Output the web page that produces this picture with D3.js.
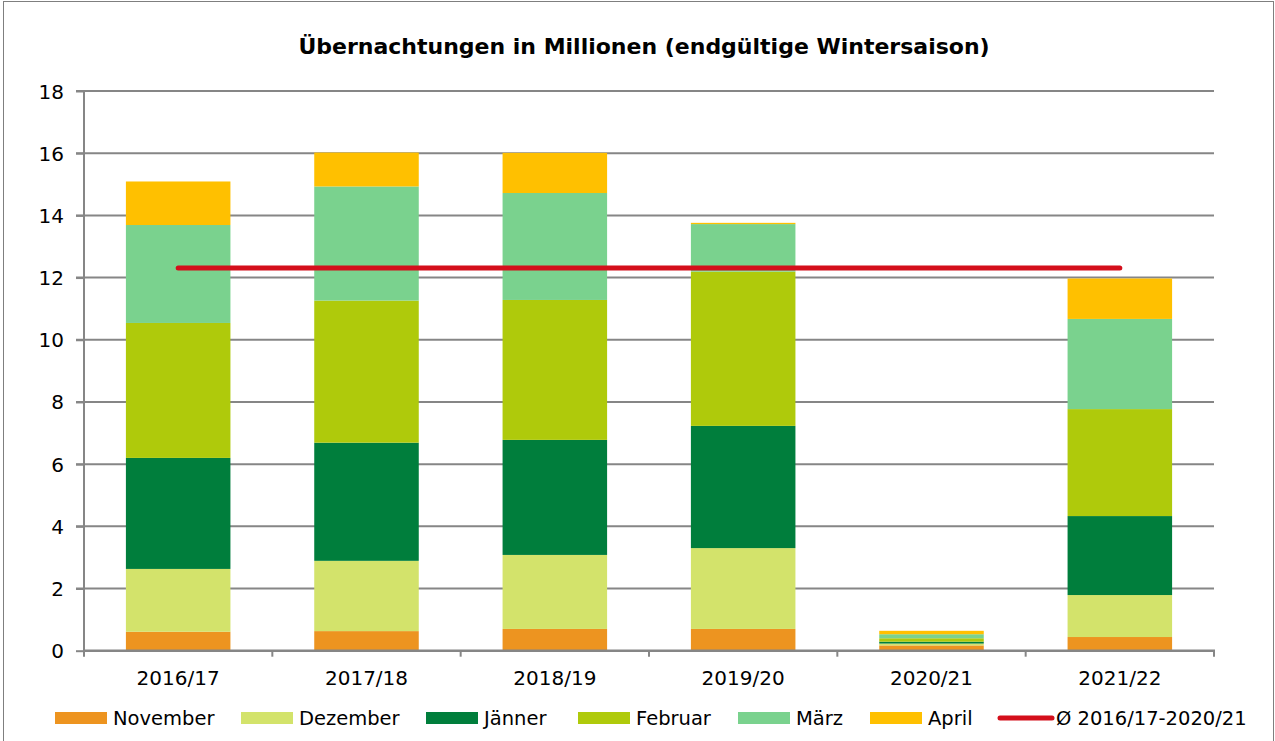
<!DOCTYPE html>
<html>
<head>
<meta charset="utf-8">
<script src="https://cdn.jsdelivr.net/npm/d3@7/dist/d3.min.js"></script>
<style>
  html, body { margin: 0; padding: 0; background: #fff; }
  svg { display: block; }
  text { font-family: "DejaVu Sans", sans-serif; fill: #000; }
</style>
</head>
<body>
<svg id="chart" width="1275" height="741"></svg>
<script>
const seasons = ["2016/17", "2017/18", "2018/19", "2019/20", "2020/21", "2021/22"];
const monthNames = ["November", "Dezember", "Jänner", "Februar", "März", "April"];
const november = [0.61, 0.63, 0.70, 0.70, 0.17, 0.44];
const dezember = [2.02, 2.26, 2.38, 2.60, 0.06, 1.35];
const jaenner  = [3.57, 3.80, 3.70, 3.93, 0.06, 2.54];
const februar  = [4.34, 4.57, 4.50, 4.96, 0.11, 3.44];
const maerz    = [3.15, 3.67, 3.44, 1.53, 0.13, 2.90];
const april    = [1.40, 1.09, 1.29, 0.04, 0.11, 1.30];
const yTicks = [0, 2, 4, 6, 8, 10, 12, 14, 16, 18];
const avgLabel = "Ø 2016/17-2020/21";
const avgSeasons = ["2016/17", "2017/18", "2018/19", "2019/20", "2020/21"];
const title = "Übernachtungen in Millionen (endgültige Wintersaison)";

const colors = ["#ED9420", "#D3E36B", "#007E3C", "#AFCA0B", "#7AD28E", "#FFC000"];
const avgColor = "#D40F1B";

const series = [november, dezember, jaenner, februar, maerz, april];
const rows = seasons.map((s, i) => {
  const r = { season: s };
  monthNames.forEach((m, k) => r[m] = series[k][i]);
  return r;
});

const svg = d3.select("#chart");

// outer border
svg.append("rect").attr("x", 3.5).attr("y", 1.5).attr("width", 1270).attr("height", 760)
  .attr("fill", "none").attr("stroke", "#7f7f7f").attr("stroke-width", 1);

const x = d3.scaleBand().domain(seasons).range([84, 1214]).paddingInner(0.445).paddingOuter(0.2225);
const y = d3.scaleLinear().domain([0, 18]).range([650.7, 91]);

// title
svg.append("text").attr("x", 644).attr("y", 54).attr("text-anchor", "middle")
  .style("font-size", "22px").style("font-weight", "bold").text(title);

// gridlines
const grid = svg.append("g");
grid.selectAll("line").data(yTicks.filter(d => d > 0)).join("line")
  .attr("x1", 76).attr("x2", 1214)
  .attr("y1", d => y(d)).attr("y2", d => y(d))
  .attr("stroke", "#868686").attr("stroke-width", 2);

// y axis
const yAxis = d3.axisLeft(y).tickValues(yTicks).tickSize(8).tickPadding(12).tickFormat(d3.format("d"));
const yg = svg.append("g").attr("transform", "translate(84,0)").call(yAxis);
yg.select(".domain").attr("stroke", "#868686").attr("stroke-width", 2).attr("d", "M0,91V655");
yg.selectAll(".tick line").attr("stroke", "#868686").attr("stroke-width", 2);
yg.selectAll(".tick text").style("font-size", "20px").attr("dy", "0.35em")
  .style("font-family", "'DejaVu Sans', sans-serif");

// bars
const stack = d3.stack().keys(monthNames);
const stacked = stack(rows);
svg.append("g").selectAll("g").data(stacked).join("g")
  .attr("fill", (d, i) => colors[i])
  .selectAll("rect").data(d => d).join("rect")
  .attr("x", d => x(d.data.season))
  .attr("width", x.bandwidth())
  .attr("y", d => y(d[1]))
  .attr("height", d => y(d[0]) - y(d[1]));

// x axis
const xg = svg.append("g").attr("transform", "translate(0,650.7)");
xg.append("line").attr("x1", 83).attr("x2", 1215).attr("y1", 0).attr("y2", 0)
  .attr("stroke", "#868686").attr("stroke-width", 2.5);
const step = x.step();
const boundaries = d3.range(seasons.length + 1).map(i => 84 + i * step);
xg.selectAll(".bt").data(boundaries).join("line").attr("class", "bt")
  .attr("x1", d => d).attr("x2", d => d).attr("y1", 0).attr("y2", 6)
  .attr("stroke", "#868686").attr("stroke-width", 2);
xg.selectAll(".xl").data(seasons).join("text").attr("class", "xl")
  .attr("x", d => x(d) + x.bandwidth() / 2).attr("y", 34)
  .attr("text-anchor", "middle").style("font-size", "20px").text(d => d);

// average line
const avg = d3.mean(rows.filter(r => avgSeasons.includes(r.season)), r => d3.sum(monthNames, m => r[m]));
svg.append("line")
  .attr("x1", x(seasons[0]) + x.bandwidth() / 2)
  .attr("x2", x(seasons[seasons.length - 1]) + x.bandwidth() / 2)
  .attr("y1", y(avg)).attr("y2", y(avg))
  .attr("stroke", avgColor).attr("stroke-width", 5).attr("stroke-linecap", "round");

// legend
const legendItems = monthNames.map((m, i) => ({ label: m, color: colors[i], type: "rect" }))
  .concat([{ label: avgLabel, color: avgColor, type: "line" }]);
const legendX = [55, 241, 426, 578, 738, 870, 998];
const lg = svg.append("g");
legendItems.forEach((it, i) => {
  const g = lg.append("g").attr("transform", `translate(${legendX[i]},718)`);
  if (it.type === "rect") {
    g.append("rect").attr("x", 0).attr("y", -6).attr("width", 52).attr("height", 12).attr("fill", it.color);
  } else {
    g.append("line").attr("x1", 2).attr("x2", 54).attr("y1", 0).attr("y2", 0)
      .attr("stroke", it.color).attr("stroke-width", 5).attr("stroke-linecap", "round");
  }
  g.append("text").attr("x", 58).attr("y", 0).attr("dy", "0.35em").style("font-size", "19.5px").text(it.label);
});
</script>
</body>
</html>
